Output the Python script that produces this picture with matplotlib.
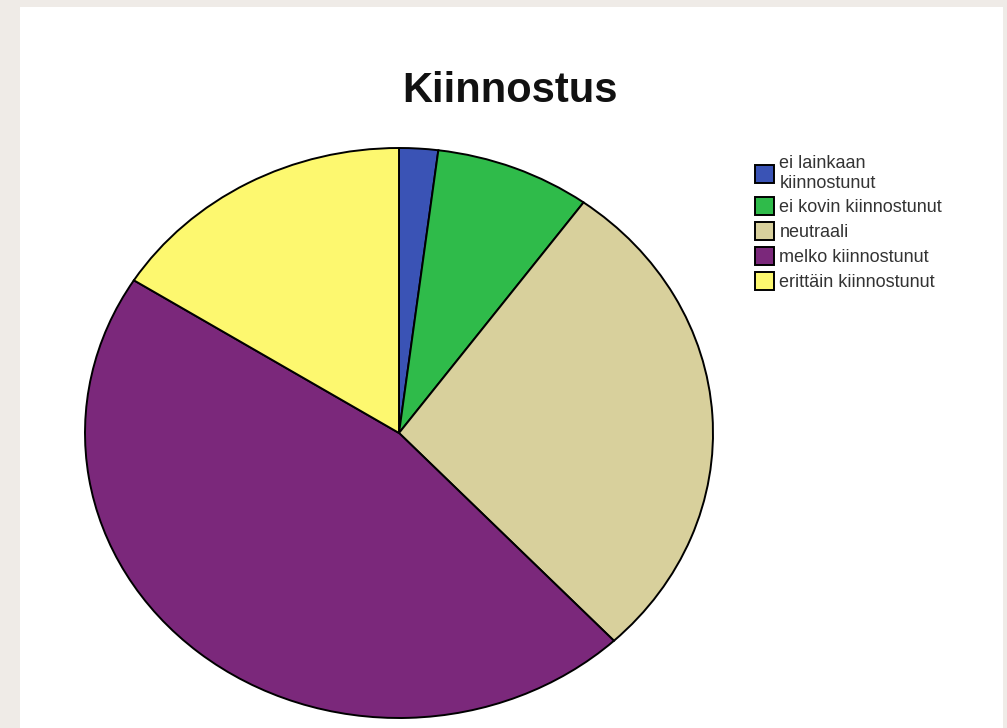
import matplotlib.pyplot as plt
from matplotlib.patches import Rectangle

plt.rcParams["font.family"] = ["Liberation Sans", "DejaVu Sans"]

labels = ["ei lainkaan\nkiinnostunut", "ei kovin kiinnostunut", "neutraali",
          "melko kiinnostunut", "erittäin kiinnostunut"]
shares = [2, 8, 28, 46, 16]
colors = ["#3a53b5", "#2fbb4a", "#d8d09c", "#7b287b", "#fdf86f"]

W, H = 1007, 728

fig = plt.figure(figsize=(W / 100, H / 100), dpi=100, facecolor="#efebe7")

# white panel behind the chart
fig.patches.append(Rectangle((20 / W, 0), (1003 - 20) / W, (H - 7) / H,
                             transform=fig.transFigure, facecolor="white",
                             edgecolor="none", zorder=-5))

# pie axes: ellipse from x 85..713, y 148..718 (pixels)
ax = fig.add_axes([85 / W, (H - 718) / H, 628 / W, 570 / H])
wedges, _ = ax.pie(shares, colors=colors, startangle=90, counterclock=False,
                   wedgeprops=dict(edgecolor="black", linewidth=1.4, clip_on=False))
ax.set_aspect("auto")
ax.set_xlim(-1, 1)
ax.set_ylim(-1, 1)
ax.axis("off")

fig.text(510 / W, 1 - 91 / H, "Kiinnostus", ha="center", va="center",
         fontsize=30, fontweight="bold", color="#111111")

leg = fig.legend(wedges, labels, loc="upper left",
                 bbox_to_anchor=(746 / W, 1 - 146 / H), frameon=False,
                 fontsize=13, handlelength=1.05, handleheight=1.15,
                 handletextpad=0.3, labelspacing=0.32, borderpad=0)
for t in leg.get_texts():
    t.set_color("#333333")

fig.savefig("out.png", dpi=100, facecolor=fig.get_facecolor())
